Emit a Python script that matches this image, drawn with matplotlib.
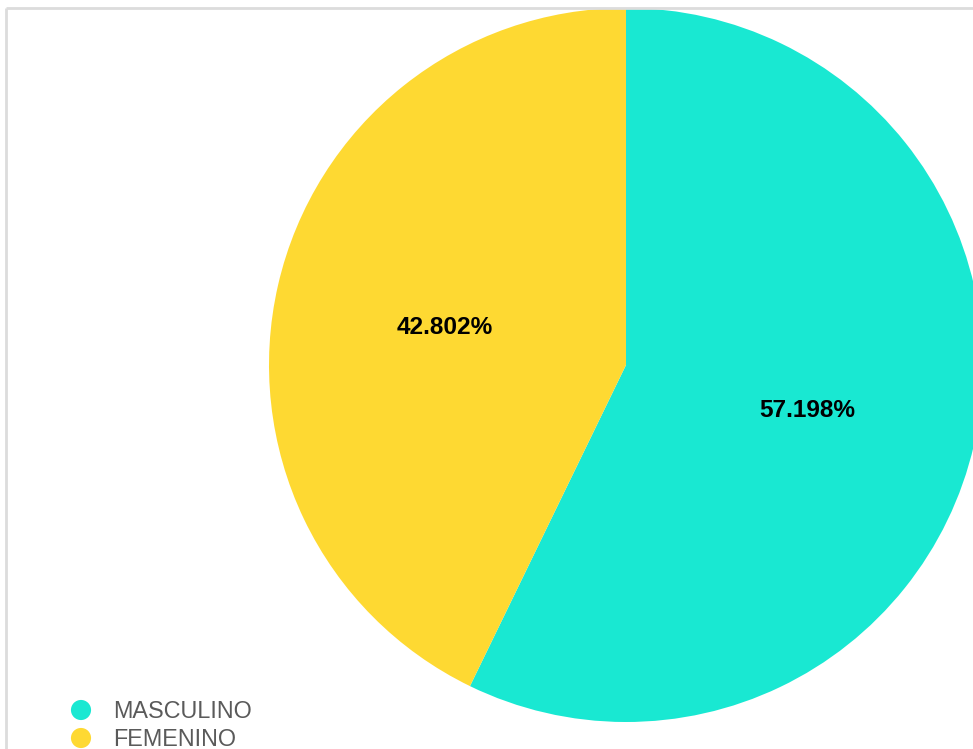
import matplotlib
matplotlib.use("Agg")
import matplotlib.pyplot as plt

labels = ["MASCULINO", "FEMENINO"]
values = [57.198, 42.802]
colors = ["#19E8D2", "#FED932"]

W, H = 973, 749
fig = plt.figure(figsize=(W / 100, H / 100), dpi=100)
ax = fig.add_axes([0, 0, 1, 1])

wedges, texts, autotexts = ax.pie(
    values, colors=colors, startangle=90, counterclock=False,
    center=(626, H - 365), radius=357, autopct="%.3f%%", pctdistance=0.52,
    wedgeprops=dict(linewidth=0),
    textprops=dict(fontfamily="Liberation Sans", fontsize=17.6, fontweight="bold", color="black"),
)
for t in autotexts:
    x, y = t.get_position()
    t.set_position((x, y - 4))
ax.set_xlim(0, W)
ax.set_ylim(0, H)
ax.set_aspect("auto")
ax.axis("off")

# frame border (top and left visible)
ax.plot([6, 6], [0, H - 8], color="#dcdcdc", lw=2, solid_capstyle="butt", clip_on=False)
ax.plot([6, W], [H - 8, H - 8], color="#dcdcdc", lw=2, solid_capstyle="butt", clip_on=False)

# legend
for i, (lab, col) in enumerate(zip(labels, colors)):
    yb = H - (718 + 28 * i)
    ax.scatter([81], [yb + 8], s=210, color=col, edgecolors="none", clip_on=False)
    ax.text(113, yb, lab, fontfamily="Liberation Sans", fontsize=16.8,
            color="#5a5a5a", va="baseline", ha="left")

fig.savefig("out.png", dpi=100)
